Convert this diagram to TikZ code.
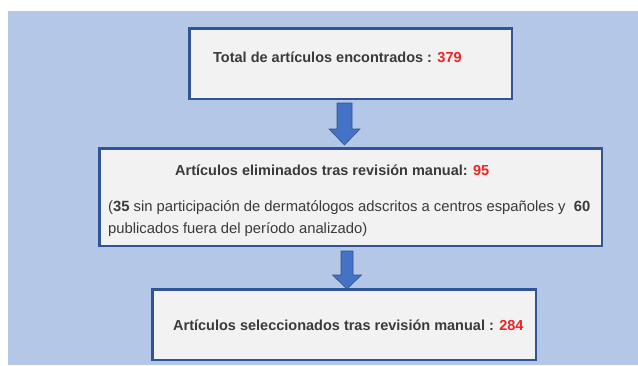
\documentclass[tikz,border=0pt]{standalone}
\usepackage{fontspec}
\setmainfont{Liberation Sans}
\usetikzlibrary{calc}
\definecolor{fondo}{HTML}{B4C7E7}
\definecolor{borde}{HTML}{2F5597}
\definecolor{cajagris}{HTML}{F2F2F2}
\definecolor{azulflecha}{HTML}{4472C4}
\definecolor{bordeflecha}{HTML}{2F528F}
\definecolor{gristexto}{HTML}{3A3A3A}
\definecolor{rojo}{HTML}{F02222}
\tikzset{
  caja/.style={draw=borde, line width=2.5pt, fill=cajagris, inner sep=0pt},
  txt/.style={inner sep=0pt, anchor=west, text=gristexto, font=\fontsize{14.5}{21}\selectfont},
  flecha/.style={fill=azulflecha, draw=bordeflecha, line width=0.6pt}
}
\newcommand{\num}[1]{\textcolor{rojo}{#1}}

\begin{document}
\begin{tikzpicture}[x=1pt, y=-1pt]
  \useasboundingbox (0,0) rectangle (638,365);
  \fill[fondo] (8,11) rectangle (638,365);

  % cajas
  \node[caja, minimum width=322.5pt, minimum height=70.5pt] (c1) at (350.5,63.5) {};
  \node[caja, minimum width=502.5pt, minimum height=97.5pt] (c2) at (350.5,197) {};
  \node[caja, minimum width=383.5pt, minimum height=70.5pt] (c3) at (344,324.5) {};

  % textos
  \node[txt] (t1) at ($(c1.west)+(25,-6.5)$) {\bfseries Total de artículos encontrados : \num{379}};
  \node[txt] (t2a) at ($(c2.west)+(77,-27)$) {\bfseries Artículos eliminados tras revisión manual: \num{95}};
  \node[txt, align=left, font=\fontsize{14.8}{22}\selectfont] (t2b) at ($(c2.west)+(10,22)$) {(\textbf{35} sin participación de dermatólogos adscritos a centros españoles y~~\textbf{60}\\publicados fuera del período analizado)};
  \node[txt] (t3) at ($(c3.west)+(22,0.5)$) {\bfseries Artículos seleccionados tras revisión manual : \num{284}};

  % flechas
  \draw[flecha] ($(c1.south)+(-13.5,3)$) -- ++(15,0) -- ++(0,26) -- ++(8,0) -- ++(-15.5,16) -- ++(-15.5,-16) -- ++(8,0) -- cycle;
  \draw[flecha] ($(c2.south)+(-9.5,4)$) -- ++(12,0) -- ++(0,24) -- ++(8.5,0) -- ++(-14.5,14) -- ++(-14.5,-14) -- ++(8.5,0) -- cycle;
\end{tikzpicture}
\end{document}
